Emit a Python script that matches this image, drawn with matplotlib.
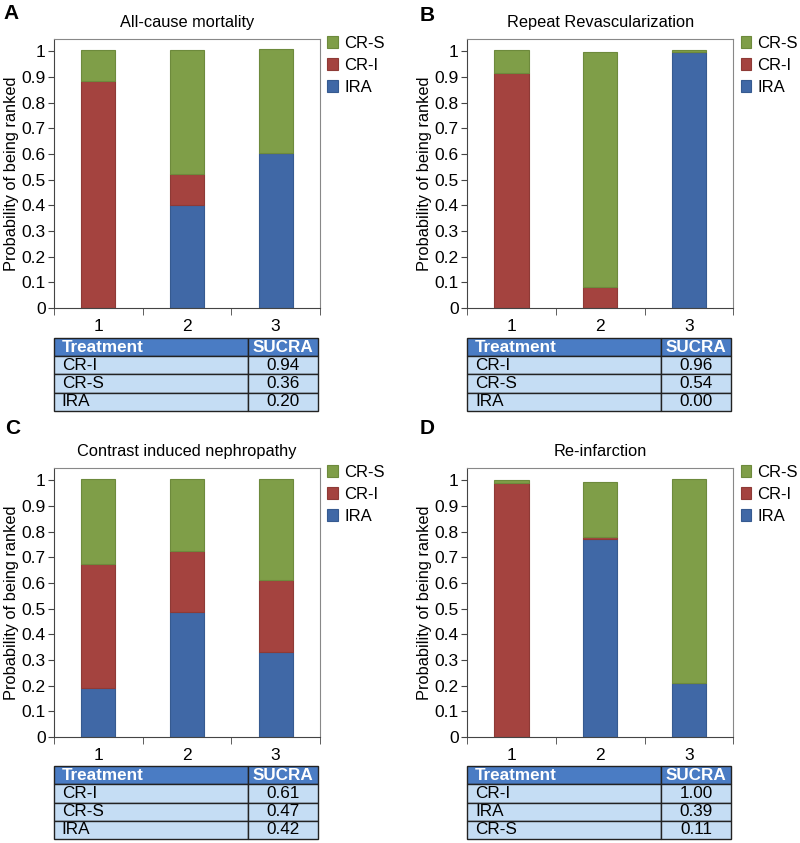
import matplotlib.pyplot as plt
import numpy as np

plt.rcParams['font.family'] = ['Liberation Sans', 'DejaVu Sans']

ranks = [1, 2, 3]
series = ['IRA', 'CR-I', 'CR-S']
colors = {'IRA': '#4068A6', 'CR-I': '#A4433F', 'CR-S': '#7F9E48'}
edges = {'IRA': '#365a90', 'CR-I': '#8e3a36', 'CR-S': '#6d8a3c'}

titles = ['All-cause mortality', 'Repeat Revascularization',
          'Contrast induced nephropathy', 'Re-infarction']
letters = ['A', 'B', 'C', 'D']

# probability of each treatment at rank 1, 2, 3
ira = [[0.0, 0.40, 0.605], [0.0, 0.0, 0.995], [0.19, 0.485, 0.33], [0.0, 0.77, 0.21]]
cri = [[0.885, 0.12, 0.0], [0.915, 0.083, 0.0], [0.485, 0.24, 0.28], [0.99, 0.007, 0.0]]
crs = [[0.12, 0.485, 0.405], [0.09, 0.915, 0.01], [0.33, 0.28, 0.395], [0.012, 0.215, 0.795]]

table_names = [['CR-I', 'CR-S', 'IRA'], ['CR-I', 'CR-S', 'IRA'],
               ['CR-I', 'CR-S', 'IRA'], ['CR-I', 'IRA', 'CR-S']]
table_sucra = [['0.94', '0.36', '0.20'], ['0.96', '0.54', '0.00'],
               ['0.61', '0.47', '0.42'], ['1.00', '0.39', '0.11']]

fig = plt.figure(figsize=(8, 8.43), dpi=100)

lefts = [0.0675, 0.584, 0.0675, 0.584]
ax_bottoms = [0.6346, 0.6346, 0.1257, 0.1257]
tab_bottoms = [0.5125, 0.5125, 0.0047, 0.0047]
letter_pos = [(0.004, 0.995), (0.524, 0.993), (0.006, 0.503), (0.524, 0.503)]

for i in range(4):
    ax = fig.add_axes([lefts[i], ax_bottoms[i], 0.3325, 0.319])
    vals = {'IRA': ira[i], 'CR-I': cri[i], 'CR-S': crs[i]}
    bottom = np.zeros(3)
    handles = {}
    for s in series:
        v = np.array(vals[s])
        handles[s] = ax.bar(ranks, v, width=0.385, bottom=bottom, color=colors[s],
                            edgecolor=edges[s], linewidth=0.8, label=s)
        bottom += v
    ax.set_xlim(0.5, 3.5)
    ax.set_ylim(0, 1.047)
    ax.set_yticks(np.arange(0, 1.01, 0.1))
    ax.set_yticklabels(['0'] + ['%.1f' % t for t in np.arange(0.1, 0.95, 0.1)] + ['1'])
    ax.set_xticks(ranks)
    ax.set_xticklabels([str(r) for r in ranks])
    ax.set_xticks([0.5, 1.5, 2.5, 3.5], minor=True)
    ax.tick_params(axis='x', which='major', length=0, labelsize=12.5, pad=8)
    ax.tick_params(axis='x', which='minor', length=5, direction='out', color='#444')
    ax.tick_params(axis='y', length=4, direction='out', labelsize=12.5, color='#444', pad=2)
    for sp in ['top', 'right']:
        ax.spines[sp].set_color('#888888')
    for sp in ['left', 'bottom']:
        ax.spines[sp].set_color('#444444')
    ax.set_ylabel('Probability of being ranked', fontsize=11.8, labelpad=2)
    ax.set_title(titles[i], fontsize=11.8, pad=9)
    ax.legend([handles['CR-S'], handles['CR-I'], handles['IRA']],
              ['CR-S', 'CR-I', 'IRA'], loc='upper left', bbox_to_anchor=(0.99, 1.05),
              frameon=False, fontsize=12, handlelength=0.65, handleheight=0.75,
              handletextpad=0.35, labelspacing=0.42, borderaxespad=0.2)
    fig.text(letter_pos[i][0], letter_pos[i][1], letters[i], fontsize=15,
             fontweight='bold', va='top', ha='left')

    # SUCRA table
    tax = fig.add_axes([lefts[i], tab_bottoms[i], 0.33, 0.0866])
    tax.axis('off')
    cells = [['Treatment', 'SUCRA']] + [[n, s] for n, s in zip(table_names[i], table_sucra[i])]
    tb = tax.table(cellText=cells, bbox=[0, 0, 1, 1], colWidths=[0.735, 0.265])
    tb.auto_set_font_size(False)
    for (r, c), cell in tb.get_celld().items():
        cell.set_edgecolor('#222222')
        cell.set_linewidth(1.0)
        cell.PAD = 0.04
        txt = cell.get_text()
        txt.set_fontsize(12.3)
        if r == 0:
            cell.set_facecolor('#4A7CC4')
            txt.set_color('white')
            txt.set_fontweight('bold')
        else:
            cell.set_facecolor('#C5DDF4')
        if c == 0:
            txt.set_ha('left')
            cell._loc = 'left'
        else:
            txt.set_ha('center')
            cell._loc = 'center'

fig.savefig('out.png', dpi=100, facecolor='white')
